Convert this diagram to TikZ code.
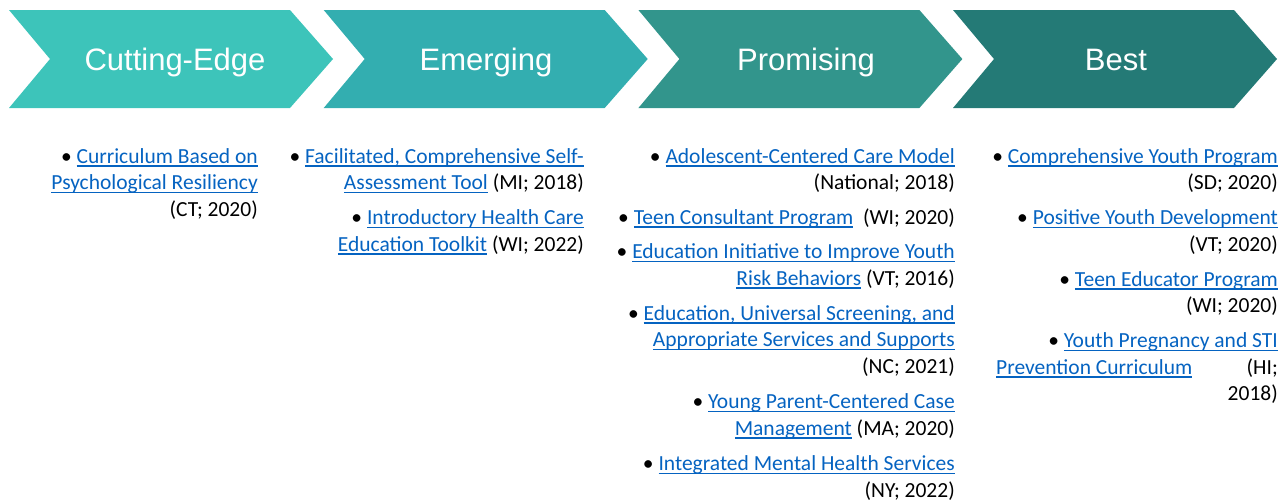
\documentclass[tikz,border=0pt]{standalone}
\usepackage{fontspec}
\setmainfont{Carlito}
\newfontfamily\headfont{Liberation Sans}
\definecolor{linkblue}{HTML}{0563C1}
\definecolor{chA}{RGB}{61,196,186}
\definecolor{chB}{RGB}{51,174,176}
\definecolor{chC}{RGB}{50,149,140}
\definecolor{chD}{RGB}{36,122,118}
\newsavebox{\lnkbox}
\newcommand{\lnk}[1]{{\leavevmode\color{linkblue}\sbox{\lnkbox}{#1}\rlap{\vrule width \wd\lnkbox height -2.2pt depth 3.7pt}\usebox{\lnkbox}}}
\tikzset{
  head/.style={text=white,font=\headfont\fontsize{31}{36}\selectfont,inner sep=0pt,anchor=base},
  item/.style={anchor=base east,inner sep=0pt,font=\fontsize{21.5}{26}\selectfont,text=black},
  iteml/.style={anchor=base west,inner sep=0pt,font=\fontsize{21.5}{26}\selectfont,text=black},
}
\newcommand{\chev}[2]{%
  \fill[#2] (#1,10) -- ++(281,0) -- ++(43,49) -- ++(-43,49) -- ++(-281,0) -- ++(41,-49) -- cycle;}
\begin{document}
\begin{tikzpicture}[x=1pt,y=-1pt]
\useasboundingbox (0,0) rectangle (1283,501);
\chev{9}{chA}
\chev{323.7}{chB}
\chev{638.4}{chC}
\chev{953}{chD}
\node[head] (h1) at (175,70) {Cutting-Edge};
\node[head] (h2) at (486,70) {Emerging};
\node[head] (h3) at (806,70) {Promising};
\node[head] (h4) at (1116,70) {Best};
% column 1
\node[item] (a1) at (258,163) {• \lnk{Curriculum Based on}};
\node[item] (a2) at (258,189.5) {\lnk{Psychological Resiliency}};
\node[item] (a3) at (258,216) {(CT; 2020)};
% column 2
\node[item] (b1) at (584,163) {• \lnk{Facilitated, Comprehensive Self-}};
\node[item] (b2) at (584,189.5) {\lnk{Assessment Tool} (MI; 2018)};
\node[item] (b3) at (584,224.5) {• \lnk{Introductory Health Care}};
\node[item] (b4) at (584,251) {\lnk{Education Toolkit} (WI; 2022)};
% column 3
\node[item] (c1) at (955,163) {• \lnk{Adolescent-Centered Care Model}};
\node[item] (c2) at (955,189.5) {(National; 2018)};
\node[item] (c3) at (955,224) {• \lnk{Teen Consultant Program}\ \ (WI; 2020)};
\node[item] (c4) at (955,258.5) {• \lnk{Education Initiative to Improve Youth}};
\node[item] (c5) at (955,285) {\lnk{Risk Behaviors} (VT; 2016)};
\node[item] (c6) at (955,320) {• \lnk{Education, Universal Screening, and}};
\node[item] (c7) at (955,346.5) {\lnk{Appropriate Services and Supports}};
\node[item] (c8) at (955,373) {(NC; 2021)};
\node[item] (c9) at (955,408.5) {• \lnk{Young Parent-Centered Case}};
\node[item] (c10) at (955,435) {\lnk{Management} (MA; 2020)};
\node[item] (c11) at (955,470.5) {• \lnk{Integrated Mental Health Services}};
\node[item] (c12) at (955,497) {(NY; 2022)};
% column 4
\node[item] (d1) at (1278,163) {• \lnk{Comprehensive Youth Program}};
\node[item] (d2) at (1278,189.5) {(SD; 2020)};
\node[item] (d3) at (1278,224.5) {• \lnk{Positive Youth Development}};
\node[item] (d4) at (1278,251) {(VT; 2020)};
\node[item] (d5) at (1278,286) {• \lnk{Teen Educator Program}};
\node[item] (d6) at (1278,312.5) {(WI; 2020)};
\node[item] (d7) at (1278,347.5) {• \lnk{Youth Pregnancy and STI}};
\node[iteml] (d8) at (996,374) {\lnk{Prevention Curriculum}};
\node[item] (d9) at (1278,374) {(HI;};
\node[item] (d10) at (1278,400.5) {2018)};
\end{tikzpicture}
\end{document}
